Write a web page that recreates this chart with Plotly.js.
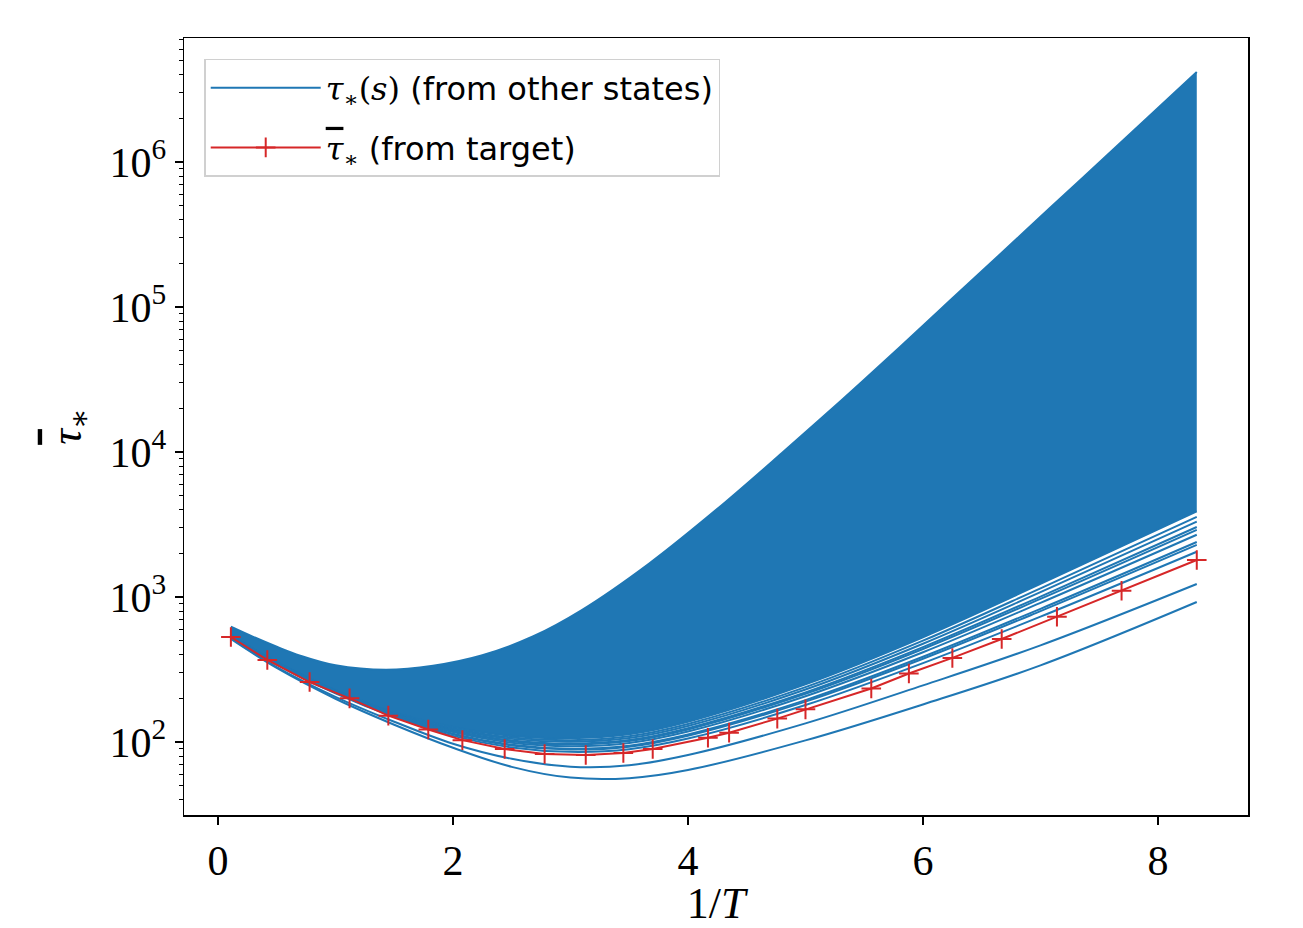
<!DOCTYPE html>
<html><head><meta charset="utf-8">
<script src="https://cdn.plot.ly/plotly-3.0.1.min.js"></script>
<style>html,body{margin:0;padding:0;background:#fff}#chart{width:1303px;height:928px}</style>
</head><body><div id="chart"></div>
<script>
// target curve (red, with + markers)
const redX = [0.11,0.42,0.78,1.12,1.45,1.79,2.08,2.44,2.78,3.13,3.45,3.70,4.17,4.35,4.76,5.00,5.56,5.88,6.25,6.67,7.14,7.69,8.33];
const redY = [530,368,259,200,152,122,103,89.5,82.7,81.3,84,89.5,107,116,145,168,234,297,380,513,731,1105,1800];

// upper edge of the dense bundle of curves from other states
const topX   = [0.11,0.3,0.5,0.7,1.0,1.43,1.83,2.25,2.68,3.1,3.67,4.24,4.8,5.3,5.8,6.23,6.65,7.08,7.5,7.92,8.33];
const bandTop = [624,531,454,394,338,315,336,397,534,816,1702,3990,9840,22500,52600,110700,228600,481000,993000,2050000,4170000];

// x grid of the individual curves from other states
const blueX = [0.11,0.5,1.0,1.5,2.0,2.5,3.0,3.5,4.0,5.0,6.0,7.0,8.33];
// lower edge of the dense bundle
const bandFloor = [545,355,228,160,127,110,106,113,138,250,528,1230,3890];
// individual curves between the bundle and the target
const s1 = [543,353,226,158,124.6,107.4,103.0,109.5,133.2,239,500,1148,3573];
const s2 = [542,352,225,157,122.5,105.1,100.4,106.4,129.0,230,476,1079,3309];
const s3 = [540,350,224,155.7,120.2,102.5,97.6,103.1,124.5,220,451,1007,3040];
const s4 = [539,349,223,155,119,101.2,96.1,101.4,122.1,215,438,970,2903];
const s5 = [538,348,222,153.6,117,99.0,93.6,98.5,118.2,207,416,911,2687];
const s6 = [535,345,220,151.7,114,95.8,90.0,94.4,112.7,194.6,387,829,2394];
const s7 = [534,345,219,150.8,112.9,94.6,88.7,92.8,110.5,190,375,799,2286];
const s8 = [532,342,217,149,110.2,91.7,85.5,89.2,105.6,179.8,350,732,2052];
// the two curves below the target
const lowA = [521,329,205,138,97.3,76.6,67.6,69.1,81.3,134.4,245.7,464,1229];
const lowB = [513,324,198.7,131.6,91.3,67.4,56.8,56.3,64.1,102.6,181.6,337.6,923];

const yTickVals = [100,1000,10000,100000,1000000];
const yTickText = ['10<sup>2</sup>','10<sup>3</sup>','10<sup>4</sup>','10<sup>5</sup>','10<sup>6</sup>'];
const xTickVals = [0,2,4,6,8];

const BLUE = '#1f77b4', RED = '#d62728';
const SERIF = 'Liberation Serif, DejaVu Serif, serif';
const TAU_BAR = '<span style="text-decoration:overline">τ</span>';

const traces = [];
traces.push({x: topX, y: bandTop, type: 'scatter', mode: 'lines',
  line: {color: BLUE, width: 2, shape: 'spline'},
  name: '<span style="font-family:DejaVu Serif"><i>τ</i><sub>∗</sub>(<i>s</i>)</span> (from other states)',
  legendgroup: 'a', showlegend: true, hoverinfo: 'skip'});
traces.push({x: blueX, y: bandFloor, type: 'scatter', mode: 'lines', fill: 'tonexty', fillcolor: BLUE,
  line: {color: BLUE, width: 2, shape: 'spline'}, showlegend: false, hoverinfo: 'skip'});
[s1, s2, s3, s4, s5, s6, s7, s8, lowA, lowB].forEach(s => {
  traces.push({x: blueX, y: s, type: 'scatter', mode: 'lines',
    line: {color: BLUE, width: 2, shape: 'spline'}, showlegend: false, hoverinfo: 'skip'});
});
traces.push({x: redX, y: redY, type: 'scatter', mode: 'lines+markers',
  line: {color: RED, width: 2},
  marker: {symbol: 'cross-thin', size: 14, color: RED, line: {color: RED, width: 2}},
  name: '<span style="font-family:DejaVu Serif"><i>' + TAU_BAR + '</i><sub>∗</sub></span> (from target)',
  legendgroup: 'b', showlegend: true});

const layout = {
  width: 1303, height: 928,
  paper_bgcolor: '#fff', plot_bgcolor: '#fff',
  margin: {l: 184, r: 55, t: 38, b: 113},
  showlegend: true,
  legend: {x: 0.019, y: 0.973, xanchor: 'left', yanchor: 'top',
    bgcolor: 'rgba(255,255,255,0.85)', bordercolor: '#d0d0d0', borderwidth: 1.5,
    font: {family: 'DejaVu Sans, sans-serif', size: 32, color: '#000'},
    tracegroupgap: 15, itemwidth: 110},
  xaxis: {range: [-0.289, 8.766], tickvals: xTickVals, ticks: 'outside', ticklen: 8, tickwidth: 1.5,
    tickcolor: '#000', showline: true, linecolor: '#000', linewidth: 1.5, mirror: true,
    showgrid: false, zeroline: false,
    tickfont: {family: SERIF, size: 42, color: '#000'},
    title: {text: '1/<i>T</i>', font: {family: SERIF, size: 44, color: '#000'}, standoff: 6}},
  yaxis: {type: 'log', range: [1.4966, 6.855], tickvals: yTickVals, ticktext: yTickText,
    ticks: 'outside', ticklen: 8, tickwidth: 1.5, tickcolor: '#000',
    minor: {ticks: 'outside', ticklen: 4, tickwidth: 1, tickcolor: '#000', dtick: 'D1', showgrid: false},
    showline: true, linecolor: '#000', linewidth: 1.5, mirror: true,
    showgrid: false, zeroline: false,
    tickfont: {family: SERIF, size: 42, color: '#000'},
    title: {text: '<i>' + TAU_BAR + '</i><sub>∗</sub>', font: {family: SERIF, size: 44, color: '#000'}, standoff: 14}}
};

Plotly.newPlot('chart', traces, layout, {displayModeBar: false, staticPlot: true});
</script>
</body></html>
